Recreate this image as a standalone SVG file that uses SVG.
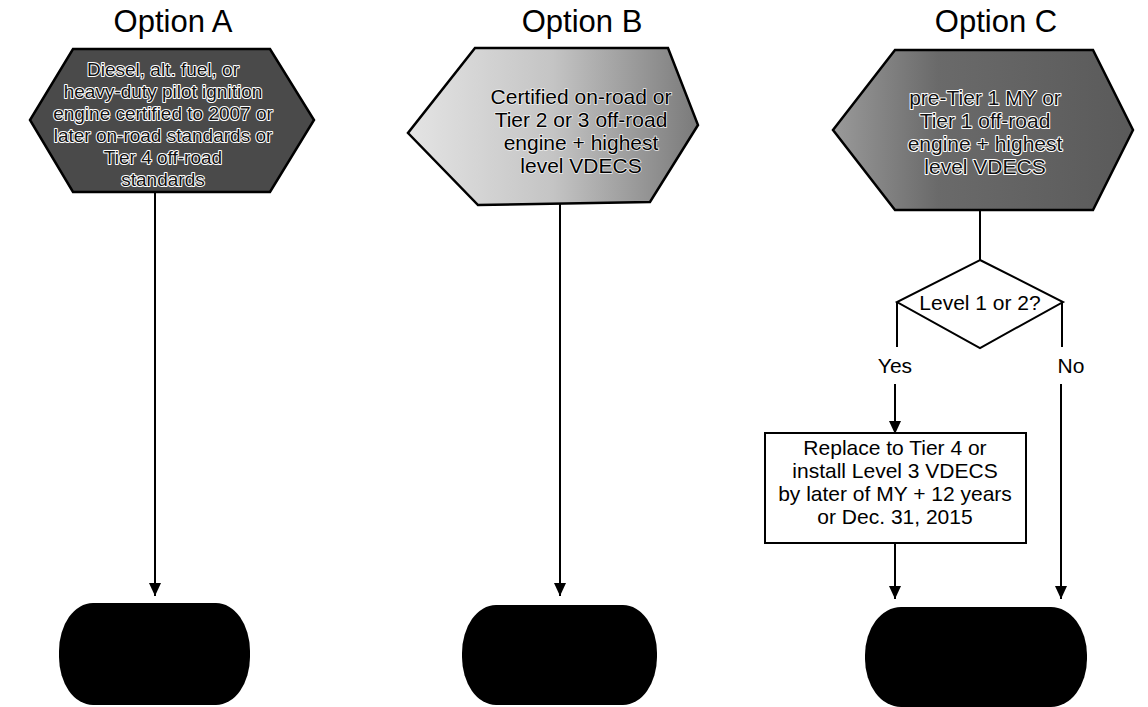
<svg xmlns="http://www.w3.org/2000/svg" width="1148" height="707" viewBox="0 0 1148 707">
  <defs>
    <linearGradient id="gB" x1="0" y1="0" x2="1" y2="0">
      <stop offset="0" stop-color="#e4e4e4"/>
      <stop offset="0.5" stop-color="#c4c4c4"/>
      <stop offset="1" stop-color="#7a7a7a"/>
    </linearGradient>
    <linearGradient id="gC" x1="0" y1="0" x2="1" y2="0">
      <stop offset="0" stop-color="#9a9a9a"/>
      <stop offset="0.35" stop-color="#6a6a6a"/>
      <stop offset="1" stop-color="#5a5a5a"/>
    </linearGradient>
    <marker id="arr" viewBox="0 0 13 12" refX="13" refY="6" markerWidth="13" markerHeight="12" markerUnits="userSpaceOnUse" orient="auto">
      <path d="M0,0 L13,6 L0,12 Z" fill="#000"/>
    </marker>
    <style>
      text { font-family: "Liberation Sans", Arial, sans-serif; text-anchor: middle; }
      .title { font-size: 31px; fill: #000; }
      .hex { stroke: #000; stroke-width: 2.5; }
      .lbl { font-size: 19px; fill: #111; stroke: #fff; stroke-width: 2; paint-order: stroke; stroke-linejoin: round; }
      .lblC { font-size: 21px; fill: #111; stroke: #fff; stroke-width: 2; paint-order: stroke; stroke-linejoin: round; }
      .lblB { font-size: 21px; fill: #000; stroke: #eee; stroke-width: 1.5; paint-order: stroke; }
      .txt { font-size: 21px; fill: #000; }
      .conn { stroke: #000; stroke-width: 2; fill: none; }
      .term { fill: #000; }
      .box { fill: #fff; stroke: #000; stroke-width: 2; }
    </style>
  </defs>

  <g id="titles">
    <text class="title" x="173" y="32">Option A</text>
    <text class="title" x="582" y="32">Option B</text>
    <text class="title" x="996" y="32">Option C</text>
  </g>

  <g id="connectors">
    <line class="conn" x1="155" y1="192" x2="155" y2="596" marker-end="url(#arr)"/>
    <line class="conn" x1="560" y1="204" x2="560" y2="596" marker-end="url(#arr)"/>
    <line class="conn" x1="980" y1="210" x2="980" y2="260"/>
    <line class="conn" x1="897" y1="302" x2="897" y2="347"/>
    <line class="conn" x1="1062" y1="302" x2="1062" y2="347"/>
    <line class="conn" x1="895" y1="384" x2="895" y2="434" marker-end="url(#arr)"/>
    <line class="conn" x1="895" y1="543" x2="895" y2="599" marker-end="url(#arr)"/>
    <line class="conn" x1="1061" y1="384" x2="1061" y2="599" marker-end="url(#arr)"/>
    <text class="txt" x="895" y="373">Yes</text>
    <text class="txt" x="1071" y="373">No</text>
  </g>

  <g id="nodeA">
    <polygon class="hex" fill="#4a4a4a" points="73,49 270,49 314,120 270,192 73,192 30,120"/>
    <text class="lbl" x="163" y="76">Diesel, alt. fuel, or</text>
    <text class="lbl" x="163" y="98">heavy-duty pilot ignition</text>
    <text class="lbl" x="163" y="120">engine certified to 2007 or</text>
    <text class="lbl" x="163" y="142">later on-road standards or</text>
    <text class="lbl" x="163" y="164">Tier 4 off-road</text>
    <text class="lbl" x="163" y="186">standards</text>
  </g>

  <g id="nodeB">
    <polygon class="hex" fill="url(#gB)" points="475,48 668,48 698,125 650,202 478,205 408,133"/>
    <text class="lblB" x="581" y="104">Certified on-road or</text>
    <text class="lblB" x="581" y="127">Tier 2 or 3 off-road</text>
    <text class="lblB" x="581" y="150">engine + highest</text>
    <text class="lblB" x="581" y="173">level VDECS</text>
  </g>

  <g id="nodeC">
    <polygon class="hex" fill="url(#gC)" points="895,50 1093,50 1133,130 1093,210 895,210 833,130"/>
    <text class="lblC" x="985" y="105">pre-Tier 1 MY or</text>
    <text class="lblC" x="985" y="128">Tier 1 off-road</text>
    <text class="lblC" x="985" y="151">engine + highest</text>
    <text class="lblC" x="985" y="174">level VDECS</text>
  </g>

  <g id="decision">
    <polygon fill="#fff" stroke="#000" stroke-width="2" points="980,260 1063,302 980,348 897,302"/>
    <text class="txt" x="980" y="310">Level 1 or 2?</text>
  </g>

  <g id="replace">
    <rect class="box" x="765" y="433" width="261" height="110"/>
    <text class="txt" x="895" y="455">Replace to Tier 4 or</text>
    <text class="txt" x="895" y="478">install Level 3 VDECS</text>
    <text class="txt" x="895" y="501">by later of MY + 12 years</text>
    <text class="txt" x="895" y="524">or Dec. 31, 2015</text>
  </g>

  <g id="endA">
    <rect class="term" x="59" y="603" width="191" height="102" rx="34" ry="48"/>
  </g>
  <g id="endB">
    <rect class="term" x="462" y="605" width="195" height="100" rx="34" ry="48"/>
  </g>
  <g id="endC">
    <rect class="term" x="865" y="607" width="222" height="100" rx="36" ry="48"/>
  </g>
</svg>
